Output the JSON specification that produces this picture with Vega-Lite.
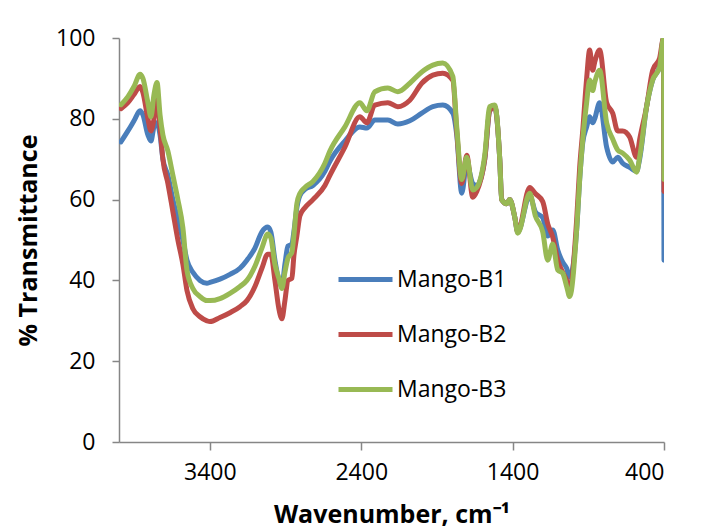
{
  "$schema": "https://vega.github.io/schema/vega-lite/v6.json",
  "autosize": {"type": "none"},
  "width": 545,
  "height": 404,
  "padding": {"left": 119, "top": 38, "right": 46, "bottom": 89},
  "background": "white",
  "config": {
    "view": {"stroke": null},
    "font": "Open Sans"
  },
  "data": {
    "values": [
      {"w": 3987, "Mango-B1": 74.3, "Mango-B2": 82.5, "Mango-B3": 83.5},
      {"w": 3941, "Mango-B1": 77, "Mango-B2": 84, "Mango-B3": 85.5},
      {"w": 3901, "Mango-B1": 79.5, "Mango-B2": 86, "Mango-B3": 88},
      {"w": 3861, "Mango-B1": 82, "Mango-B2": 88, "Mango-B3": 91},
      {"w": 3842, "Mango-B1": 81, "Mango-B2": 86.5, "Mango-B3": 90},
      {"w": 3809, "Mango-B1": 76, "Mango-B2": 80, "Mango-B3": 84},
      {"w": 3789, "Mango-B1": 74.5, "Mango-B2": 77, "Mango-B3": 80.5},
      {"w": 3769, "Mango-B1": 78, "Mango-B2": 80, "Mango-B3": 86},
      {"w": 3749, "Mango-B1": 79, "Mango-B2": 86, "Mango-B3": 89},
      {"w": 3729, "Mango-B1": 76, "Mango-B2": 78, "Mango-B3": 81},
      {"w": 3710, "Mango-B1": 70, "Mango-B2": 70, "Mango-B3": 76},
      {"w": 3677, "Mango-B1": 66, "Mango-B2": 64, "Mango-B3": 72},
      {"w": 3644, "Mango-B1": 60, "Mango-B2": 57, "Mango-B3": 66},
      {"w": 3611, "Mango-B1": 55, "Mango-B2": 50, "Mango-B3": 60},
      {"w": 3578, "Mango-B1": 50, "Mango-B2": 44, "Mango-B3": 53},
      {"w": 3551, "Mango-B1": 45, "Mango-B2": 37.5, "Mango-B3": 42.5},
      {"w": 3512, "Mango-B1": 42, "Mango-B2": 33, "Mango-B3": 38},
      {"w": 3465, "Mango-B1": 40, "Mango-B2": 31, "Mango-B3": 36},
      {"w": 3419, "Mango-B1": 39.3, "Mango-B2": 30, "Mango-B3": 35},
      {"w": 3399, "Mango-B1": 39.5, "Mango-B2": 29.8, "Mango-B3": 35},
      {"w": 3333, "Mango-B1": 40.3, "Mango-B2": 30.8, "Mango-B3": 35.5},
      {"w": 3267, "Mango-B1": 41.5, "Mango-B2": 32, "Mango-B3": 36.8},
      {"w": 3201, "Mango-B1": 43, "Mango-B2": 33.5, "Mango-B3": 38.5},
      {"w": 3155, "Mango-B1": 45, "Mango-B2": 35, "Mango-B3": 40},
      {"w": 3102, "Mango-B1": 48, "Mango-B2": 38.5, "Mango-B3": 43.5},
      {"w": 3056, "Mango-B1": 52, "Mango-B2": 43, "Mango-B3": 48},
      {"w": 3017, "Mango-B1": 53.2, "Mango-B2": 46.5, "Mango-B3": 51.5},
      {"w": 2997, "Mango-B1": 52, "Mango-B2": 46.5, "Mango-B3": 50.5},
      {"w": 2970, "Mango-B1": 45, "Mango-B2": 40, "Mango-B3": 44},
      {"w": 2944, "Mango-B1": 40, "Mango-B2": 33, "Mango-B3": 40.5},
      {"w": 2924, "Mango-B1": 38.5, "Mango-B2": 30.5, "Mango-B3": 38},
      {"w": 2904, "Mango-B1": 44, "Mango-B2": 35, "Mango-B3": 42},
      {"w": 2884, "Mango-B1": 48.5, "Mango-B2": 40, "Mango-B3": 45.5},
      {"w": 2858, "Mango-B1": 49, "Mango-B2": 40.5, "Mango-B3": 47},
      {"w": 2845, "Mango-B1": 52, "Mango-B2": 46, "Mango-B3": 51},
      {"w": 2825, "Mango-B1": 58, "Mango-B2": 51, "Mango-B3": 59},
      {"w": 2805, "Mango-B1": 61, "Mango-B2": 56, "Mango-B3": 61.5},
      {"w": 2772, "Mango-B1": 62.5, "Mango-B2": 58, "Mango-B3": 63},
      {"w": 2719, "Mango-B1": 63.5, "Mango-B2": 60, "Mango-B3": 64.5},
      {"w": 2640, "Mango-B1": 67, "Mango-B2": 63.5, "Mango-B3": 69},
      {"w": 2607, "Mango-B1": 69.5, "Mango-B2": 66, "Mango-B3": 72},
      {"w": 2508, "Mango-B1": 74.5, "Mango-B2": 73, "Mango-B3": 78},
      {"w": 2409, "Mango-B1": 78, "Mango-B2": 80.5, "Mango-B3": 84},
      {"w": 2363, "Mango-B1": 77.7, "Mango-B2": 79, "Mango-B3": 82},
      {"w": 2310, "Mango-B1": 79.7, "Mango-B2": 83.4, "Mango-B3": 86.7},
      {"w": 2224, "Mango-B1": 79.7, "Mango-B2": 84, "Mango-B3": 87.6},
      {"w": 2158, "Mango-B1": 78.7, "Mango-B2": 83, "Mango-B3": 86.7},
      {"w": 2079, "Mango-B1": 79.5, "Mango-B2": 84.6, "Mango-B3": 88.8},
      {"w": 2000, "Mango-B1": 81.4, "Mango-B2": 88.8, "Mango-B3": 91.6},
      {"w": 1927, "Mango-B1": 83, "Mango-B2": 90.8, "Mango-B3": 93.3},
      {"w": 1861, "Mango-B1": 83.4, "Mango-B2": 91.3, "Mango-B3": 93.8},
      {"w": 1795, "Mango-B1": 81.4, "Mango-B2": 89.5, "Mango-B3": 90.5},
      {"w": 1769, "Mango-B1": 76, "Mango-B2": 77, "Mango-B3": 78},
      {"w": 1736, "Mango-B1": 61.6, "Mango-B2": 64, "Mango-B3": 65},
      {"w": 1703, "Mango-B1": 69, "Mango-B2": 71, "Mango-B3": 70.5},
      {"w": 1663, "Mango-B1": 64, "Mango-B2": 60.6, "Mango-B3": 62.4},
      {"w": 1637, "Mango-B1": 63.5, "Mango-B2": 62, "Mango-B3": 63},
      {"w": 1584, "Mango-B1": 70, "Mango-B2": 70, "Mango-B3": 71},
      {"w": 1551, "Mango-B1": 82, "Mango-B2": 82, "Mango-B3": 83},
      {"w": 1518, "Mango-B1": 83, "Mango-B2": 83, "Mango-B3": 83.4},
      {"w": 1485, "Mango-B1": 70, "Mango-B2": 70, "Mango-B3": 70},
      {"w": 1472, "Mango-B1": 60, "Mango-B2": 60, "Mango-B3": 60},
      {"w": 1439, "Mango-B1": 59, "Mango-B2": 59, "Mango-B3": 59},
      {"w": 1419, "Mango-B1": 60, "Mango-B2": 60, "Mango-B3": 60},
      {"w": 1386, "Mango-B1": 55.7, "Mango-B2": 55.7, "Mango-B3": 55.7},
      {"w": 1366, "Mango-B1": 52, "Mango-B2": 52, "Mango-B3": 51.7},
      {"w": 1287, "Mango-B1": 61, "Mango-B2": 63, "Mango-B3": 61.6},
      {"w": 1250, "Mango-B1": 57, "Mango-B2": 61.5, "Mango-B3": 56},
      {"w": 1201, "Mango-B1": 55.5, "Mango-B2": 59.5, "Mango-B3": 52},
      {"w": 1168, "Mango-B1": 51, "Mango-B2": 54, "Mango-B3": 45},
      {"w": 1135, "Mango-B1": 52.5, "Mango-B2": 50.7, "Mango-B3": 49},
      {"w": 1102, "Mango-B1": 47.5, "Mango-B2": 45, "Mango-B3": 42.6},
      {"w": 1069, "Mango-B1": 44.5, "Mango-B2": 42, "Mango-B3": 41.8},
      {"w": 1043, "Mango-B1": 43, "Mango-B2": 40, "Mango-B3": 38.5},
      {"w": 1023, "Mango-B1": 40.8, "Mango-B2": 37.6, "Mango-B3": 36},
      {"w": 977, "Mango-B1": 52.5, "Mango-B2": 55, "Mango-B3": 52.5},
      {"w": 957, "Mango-B1": 65, "Mango-B2": 68, "Mango-B3": 65},
      {"w": 937, "Mango-B1": 74, "Mango-B2": 77, "Mango-B3": 74.8},
      {"w": 911, "Mango-B1": 78, "Mango-B2": 90, "Mango-B3": 84},
      {"w": 891, "Mango-B1": 80.5, "Mango-B2": 97, "Mango-B3": 89.6},
      {"w": 871, "Mango-B1": 79, "Mango-B2": 92, "Mango-B3": 87},
      {"w": 858, "Mango-B1": 80, "Mango-B2": 94, "Mango-B3": 89},
      {"w": 825, "Mango-B1": 84, "Mango-B2": 97, "Mango-B3": 92},
      {"w": 779, "Mango-B1": 73, "Mango-B2": 84, "Mango-B3": 79},
      {"w": 739, "Mango-B1": 69.3, "Mango-B2": 81.4, "Mango-B3": 75},
      {"w": 706, "Mango-B1": 70.5, "Mango-B2": 77, "Mango-B3": 72.3},
      {"w": 673, "Mango-B1": 69, "Mango-B2": 77, "Mango-B3": 71.5},
      {"w": 627, "Mango-B1": 68, "Mango-B2": 75.5, "Mango-B3": 69.8},
      {"w": 581, "Mango-B1": 67, "Mango-B2": 70.5, "Mango-B3": 66.8},
      {"w": 561, "Mango-B1": 70, "Mango-B2": 74.8, "Mango-B3": 70.5},
      {"w": 515, "Mango-B1": 83, "Mango-B2": 83, "Mango-B3": 83},
      {"w": 475, "Mango-B1": 89.6, "Mango-B2": 92, "Mango-B3": 89.6},
      {"w": 429, "Mango-B1": 93, "Mango-B2": 95, "Mango-B3": 92.8},
      {"w": 403, "Mango-B1": 100, "Mango-B2": 100, "Mango-B3": 100},
      {"w": 400, "Mango-B1": 45, "Mango-B2": 62, "Mango-B3": 65}
    ]
  },
  "transform": [
    {"fold": ["Mango-B1", "Mango-B2", "Mango-B3"], "as": ["series", "t"]}
  ],
  "mark": {"type": "line", "strokeWidth": 5, "interpolate": "monotone", "strokeCap": "round", "strokeJoin": "round", "clip": true},
  "encoding": {
    "x": {
      "field": "w",
      "type": "quantitative",
      "scale": {"domain": [4000, 400], "nice": false, "zero": false},
      "axis": {
        "values": [3400, 2400, 1400, 400],
        "format": "d",
        "title": "Wavenumber, cm⁻¹",
        "titleFont": "Open Sans",
        "titleFontSize": 25,
        "titleFontWeight": "bold",
        "titleColor": "black",
        "titlePadding": 18,
        "labelFont": "Open Sans",
        "labelFontSize": 23,
        "labelColor": "black",
        "labelPadding": 11,
        "tickSize": 8,
        "tickColor": "#868686",
        "domainColor": "#868686",
        "domainWidth": 1.5,
        "tickWidth": 1.5,
        "grid": false
      }
    },
    "y": {
      "field": "t",
      "type": "quantitative",
      "scale": {"domain": [0, 100], "nice": false},
      "axis": {
        "values": [0, 20, 40, 60, 80, 100],
        "format": "d",
        "title": "% Transmittance",
        "titleFont": "Open Sans",
        "titleFontSize": 25,
        "titleFontWeight": "bold",
        "titleColor": "black",
        "titlePadding": 14,
        "labelFont": "Open Sans",
        "labelFontSize": 23,
        "labelColor": "black",
        "labelPadding": 17,
        "tickSize": 7,
        "tickColor": "#868686",
        "domainColor": "#868686",
        "domainWidth": 1.5,
        "tickWidth": 1.5,
        "grid": false
      }
    },
    "color": {
      "field": "series",
      "type": "nominal",
      "scale": {"domain": ["Mango-B1", "Mango-B2", "Mango-B3"], "range": ["#4A7EBB", "#BE4B48", "#98B954"]},
      "legend": {
        "title": null,
        "orient": "none",
        "legendX": 217,
        "legendY": 212,
        "symbolType": "stroke",
        "symbolSize": 2916,
        "symbolStrokeWidth": 5,
        "labelFont": "Open Sans",
        "labelFontSize": 23,
        "labelColor": "black",
        "labelOffset": 2,
        "rowPadding": 13,
        "padding": 0
      }
    }
  }
}
